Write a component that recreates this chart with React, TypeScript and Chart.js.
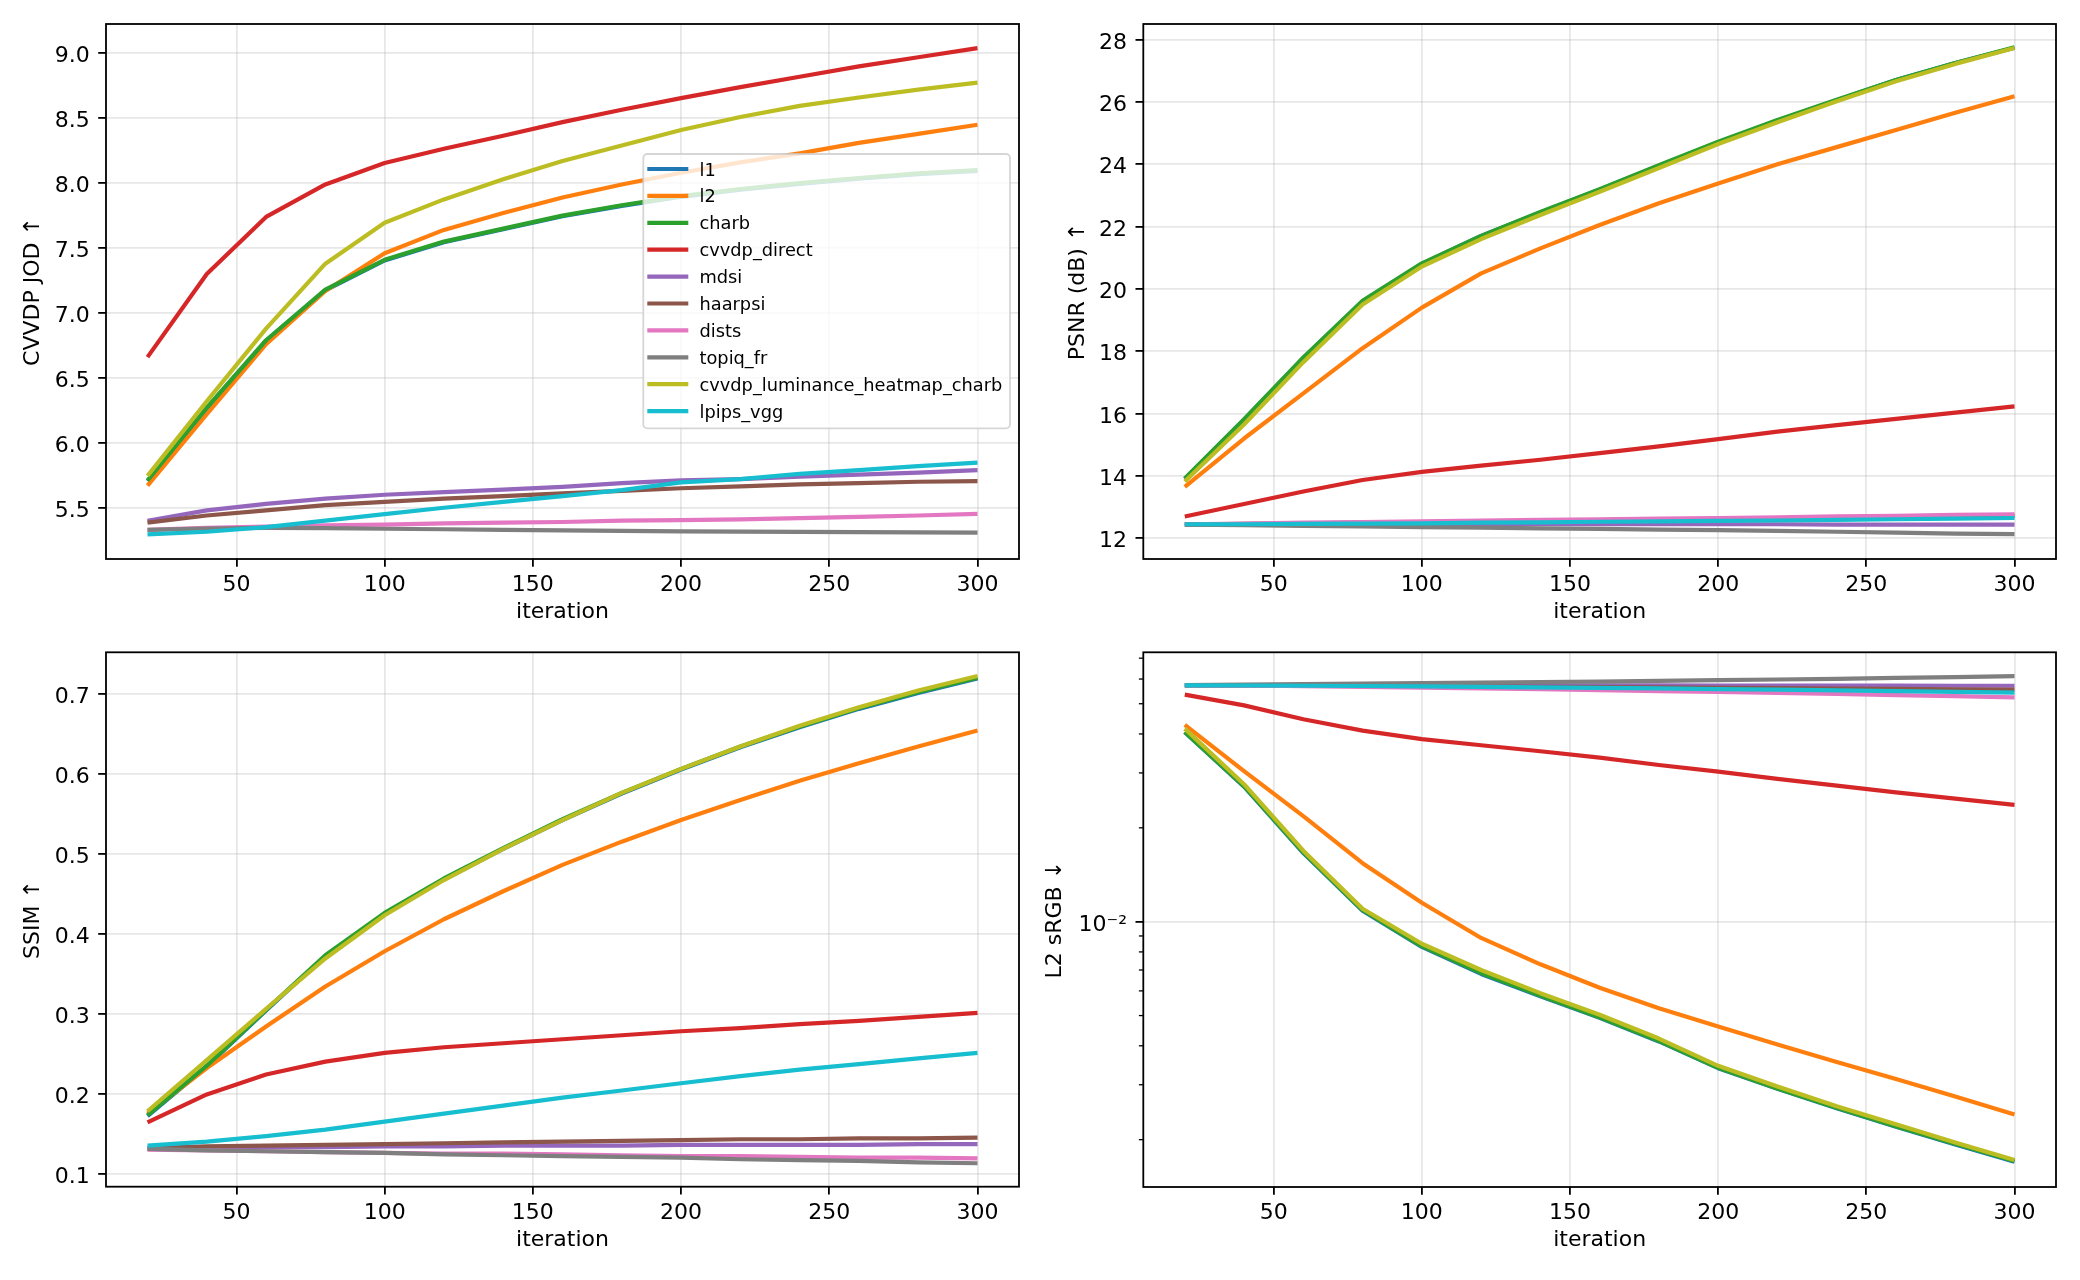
import React, { useEffect, useRef } from "react";
import { Chart, registerables } from "chart.js";

Chart.register(...registerables);
Chart.defaults.font.family = "'DejaVu Sans', sans-serif";

// ---------------- data ----------------
const ITERATIONS = [20, 40, 60, 80, 100, 120, 140, 160, 180, 200, 220, 240, 260, 280, 300];
const SERIES_NAMES = [
  "l1", "l2", "charb", "cvvdp_direct", "mdsi", "haarpsi", "dists", "topiq_fr",
  "cvvdp_luminance_heatmap_charb", "lpips_vgg",
];
const SERIES_COLORS = [
  "#1f77b4", "#ff7f0e", "#2ca02c", "#d62728", "#9467bd", "#8c564b", "#e377c2", "#7f7f7f",
  "#bcbd22", "#17becf",
];

// CVVDP JOD
const JOD_L1 = [5.705, 6.265, 6.785, 7.175, 7.405, 7.545, 7.645, 7.745, 7.825, 7.895, 7.95, 7.995, 8.035, 8.07, 8.095];
const JOD_L2 = [5.67, 6.22, 6.76, 7.17, 7.46, 7.64, 7.77, 7.89, 7.99, 8.08, 8.16, 8.23, 8.31, 8.38, 8.45];
const JOD_CHARB = [5.71, 6.27, 6.79, 7.18, 7.41, 7.55, 7.65, 7.75, 7.83, 7.9, 7.955, 8.0, 8.04, 8.075, 8.1];
const JOD_CVVDP = [6.66, 7.3, 7.74, 7.99, 8.155, 8.265, 8.365, 8.47, 8.565, 8.655, 8.74, 8.82, 8.9, 8.97, 9.04];
const JOD_MDSI = [5.4, 5.48, 5.53, 5.57, 5.6, 5.62, 5.64, 5.66, 5.69, 5.71, 5.72, 5.74, 5.755, 5.77, 5.79];
const JOD_HAARPSI = [5.385, 5.44, 5.48, 5.52, 5.545, 5.57, 5.59, 5.61, 5.63, 5.65, 5.665, 5.68, 5.69, 5.7, 5.705];
const JOD_DISTS = [5.33, 5.345, 5.355, 5.365, 5.37, 5.38, 5.385, 5.39, 5.4, 5.405, 5.41, 5.42, 5.43, 5.44, 5.452];
const JOD_TOPIQ = [5.33, 5.34, 5.345, 5.343, 5.338, 5.334, 5.33, 5.326, 5.322, 5.318, 5.316, 5.314, 5.312, 5.31, 5.308];
const JOD_LUM = [5.745, 6.32, 6.88, 7.38, 7.695, 7.875, 8.03, 8.17, 8.29, 8.41, 8.51, 8.595, 8.66, 8.72, 8.775];
const JOD_LPIPS = [5.295, 5.315, 5.35, 5.4, 5.45, 5.5, 5.545, 5.59, 5.635, 5.695, 5.72, 5.76, 5.79, 5.82, 5.848];

// PSNR (dB)
const PSNR_L1 = [13.9, 15.8, 17.78, 19.6, 20.8, 21.7, 22.45, 23.18, 23.95, 24.7, 25.4, 26.05, 26.7, 27.25, 27.74];
const PSNR_L2 = [13.65, 15.2, 16.65, 18.1, 19.4, 20.5, 21.3, 22.05, 22.75, 23.38, 24.0, 24.55, 25.1, 25.65, 26.18];
const PSNR_CHARB = [13.92, 15.82, 17.8, 19.62, 20.82, 21.7, 22.47, 23.2, 23.97, 24.72, 25.42, 26.07, 26.7, 27.25, 27.75];
const PSNR_CVVDP = [12.7, 13.1, 13.5, 13.87, 14.13, 14.33, 14.52, 14.73, 14.95, 15.18, 15.42, 15.63, 15.83, 16.03, 16.23];
const PSNR_MDSI = [12.45, 12.45, 12.45, 12.45, 12.45, 12.45, 12.45, 12.45, 12.45, 12.45, 12.45, 12.44, 12.44, 12.44, 12.44];
const PSNR_HAARPSI = [12.44, 12.46, 12.48, 12.5, 12.52, 12.54, 12.56, 12.58, 12.6, 12.62, 12.64, 12.66, 12.68, 12.7, 12.72];
const PSNR_DISTS = [12.45, 12.47, 12.5, 12.52, 12.54, 12.57, 12.59, 12.61, 12.63, 12.65, 12.67, 12.7, 12.72, 12.75, 12.77];
const PSNR_TOPIQ = [12.44, 12.42, 12.4, 12.38, 12.36, 12.34, 12.32, 12.3, 12.28, 12.26, 12.24, 12.21, 12.18, 12.15, 12.13];
const PSNR_LUM = [13.82, 15.65, 17.65, 19.5, 20.72, 21.6, 22.37, 23.12, 23.88, 24.65, 25.35, 26.02, 26.66, 27.22, 27.73];
const PSNR_LPIPS = [12.45, 12.45, 12.46, 12.47, 12.48, 12.5, 12.51, 12.53, 12.54, 12.56, 12.57, 12.59, 12.61, 12.63, 12.65];

// SSIM
const SSIM_L1 = [0.172, 0.234, 0.304, 0.372, 0.425, 0.468, 0.506, 0.542, 0.575, 0.605, 0.633, 0.658, 0.681, 0.701, 0.719];
const SSIM_L2 = [0.175, 0.232, 0.284, 0.334, 0.378, 0.418, 0.453, 0.486, 0.515, 0.542, 0.567, 0.591, 0.613, 0.634, 0.654];
const SSIM_CHARB = [0.173, 0.235, 0.305, 0.373, 0.426, 0.469, 0.507, 0.543, 0.576, 0.606, 0.634, 0.659, 0.682, 0.702, 0.72];
const SSIM_CVVDP = [0.164, 0.199, 0.224, 0.24, 0.251, 0.258, 0.263, 0.268, 0.273, 0.278, 0.282, 0.287, 0.291, 0.296, 0.301];
const SSIM_MDSI = [0.131, 0.132, 0.133, 0.133, 0.134, 0.134, 0.135, 0.135, 0.135, 0.136, 0.136, 0.136, 0.136, 0.137, 0.137];
const SSIM_HAARPSI = [0.132, 0.134, 0.135, 0.136, 0.137, 0.138, 0.139, 0.14, 0.141, 0.142, 0.143, 0.143, 0.144, 0.144, 0.145];
const SSIM_DISTS = [0.13, 0.129, 0.128, 0.127, 0.126, 0.125, 0.125, 0.124, 0.123, 0.122, 0.122, 0.121, 0.12, 0.12, 0.119];
const SSIM_TOPIQ = [0.131, 0.129, 0.128, 0.127, 0.126, 0.124, 0.123, 0.122, 0.121, 0.12, 0.118, 0.117, 0.116, 0.114, 0.113];
const SSIM_LUM = [0.178, 0.242, 0.306, 0.369, 0.423, 0.467, 0.506, 0.542, 0.576, 0.606, 0.634, 0.66, 0.683, 0.704, 0.722];
const SSIM_LPIPS = [0.135, 0.14, 0.147, 0.155, 0.165, 0.175, 0.185, 0.195, 0.204, 0.213, 0.222, 0.23, 0.237, 0.244, 0.251];

// L2 sRGB
const L2_L1 = [0.0405, 0.0271, 0.0166, 0.01085, 0.0083, 0.0068, 0.00577, 0.00492, 0.00413, 0.00339, 0.00291, 0.00252, 0.0022, 0.00193, 0.0017];
const L2_L2 = [0.0428, 0.0304, 0.0218, 0.0154, 0.0115, 0.00887, 0.0073, 0.00614, 0.00528, 0.00461, 0.00404, 0.00355, 0.00313, 0.00275, 0.00241];
const L2_CHARB = [0.0406, 0.0272, 0.0167, 0.0109, 0.00835, 0.00685, 0.0058, 0.00494, 0.00415, 0.0034, 0.00292, 0.00253, 0.00221, 0.00194, 0.00171];
const L2_CVVDP = [0.0535, 0.0494, 0.0446, 0.041, 0.0385, 0.0368, 0.0352, 0.0336, 0.0318, 0.0303, 0.0287, 0.0273, 0.026, 0.0248, 0.0237];
const L2_MDSI = [0.0573, 0.0573, 0.0573, 0.0573, 0.0573, 0.0573, 0.0573, 0.0573, 0.0573, 0.0572, 0.0572, 0.0572, 0.0572, 0.0571, 0.0571];
const L2_HAARPSI = [0.0573, 0.0572, 0.0571, 0.057, 0.0569, 0.0568, 0.0566, 0.0565, 0.0564, 0.0562, 0.0561, 0.0559, 0.0558, 0.0556, 0.0555];
const L2_DISTS = [0.0574, 0.0572, 0.0569, 0.0566, 0.0563, 0.056, 0.0557, 0.0553, 0.0549, 0.0546, 0.0542, 0.0538, 0.0533, 0.0529, 0.0524];
const L2_TOPIQ = [0.0574, 0.0576, 0.0578, 0.058, 0.0582, 0.0584, 0.0587, 0.0589, 0.0592, 0.0595, 0.0598, 0.0601, 0.0605, 0.0609, 0.0613];
const L2_LUM = [0.0416, 0.0276, 0.0169, 0.011, 0.0085, 0.007, 0.0059, 0.00503, 0.00422, 0.00345, 0.00296, 0.00256, 0.00224, 0.00196, 0.00172];
const L2_LPIPS = [0.0573, 0.0572, 0.0571, 0.057, 0.0568, 0.0566, 0.0564, 0.0562, 0.056, 0.0557, 0.0555, 0.0552, 0.0549, 0.0546, 0.0543];

// ticks
const X_TICKS = [50, 100, 150, 200, 250, 300];
const JOD_TICKS = [5.5, 6.0, 6.5, 7.0, 7.5, 8.0, 8.5, 9.0];
const PSNR_TICKS = [12, 14, 16, 18, 20, 22, 24, 26, 28];
const SSIM_TICKS = [0.1, 0.2, 0.3, 0.4, 0.5, 0.6, 0.7];
const L2_MAJOR_TICKS = [0.01];
const L2_MINOR_TICKS = [0.002, 0.003, 0.004, 0.005, 0.006, 0.007, 0.008, 0.009, 0.02, 0.03, 0.04, 0.05, 0.06, 0.07];

// ---------------- layout / style ----------------
const FIG_W = 2080;
const FIG_H = 1280;
const PANEL_W = 1040;
const PANEL_H = 640;
const FONT = "'DejaVu Sans', sans-serif";
const TICK_SIZE = 22;
const LABEL_SIZE = 22;
const LEGEND_SIZE = 17.8;
const GRID_COLOR = "rgba(176,176,176,0.3)";
const LINE_W = 4.2;

type PanelCfg = {
  key: string;
  left: number;
  top: number;
  area: { l: number; t: number; r: number; b: number };
  yTitle: string;
  yTitlePad: number;
  xTitlePad: number;
  values: number[][];
  yType: "linear" | "logarithmic";
  yMin: number;
  yMax: number;
  yTicks: number[];
  yMinor?: number[];
  fmt: (v: number) => string;
  legend?: boolean;
};

const PANELS: PanelCfg[] = [
  {
    key: "jod", left: 0, top: 0,
    area: { l: 106, t: 24, r: 1019, b: 559 },
    yTitle: "CVVDP JOD \u2191", yTitlePad: 20, xTitlePad: 14.3,
    values: [JOD_L1, JOD_L2, JOD_CHARB, JOD_CVVDP, JOD_MDSI, JOD_HAARPSI, JOD_DISTS, JOD_TOPIQ, JOD_LUM, JOD_LPIPS],
    yType: "linear", yMin: 5.105, yMax: 9.226, yTicks: JOD_TICKS,
    fmt: (v) => v.toFixed(1), legend: true,
  },
  {
    key: "psnr", left: 1040, top: 0,
    area: { l: 1143.3, t: 24, r: 2056, b: 559 },
    yTitle: "PSNR (dB) \u2191", yTitlePad: 25.5, xTitlePad: 14.3,
    values: [PSNR_L1, PSNR_L2, PSNR_CHARB, PSNR_CVVDP, PSNR_MDSI, PSNR_HAARPSI, PSNR_DISTS, PSNR_TOPIQ, PSNR_LUM, PSNR_LPIPS],
    yType: "linear", yMin: 11.335, yMax: 28.5, yTicks: PSNR_TICKS,
    fmt: (v) => String(v),
  },
  {
    key: "ssim", left: 0, top: 640,
    area: { l: 106, t: 652.3, r: 1019, b: 1186.7 },
    yTitle: "SSIM \u2191", yTitlePad: 20, xTitlePad: 26.6,
    values: [SSIM_L1, SSIM_L2, SSIM_CHARB, SSIM_CVVDP, SSIM_MDSI, SSIM_HAARPSI, SSIM_DISTS, SSIM_TOPIQ, SSIM_LUM, SSIM_LPIPS],
    yType: "linear", yMin: 0.0837, yMax: 0.7517, yTicks: SSIM_TICKS,
    fmt: (v) => v.toFixed(1),
  },
  {
    key: "l2", left: 1040, top: 640,
    area: { l: 1143.3, t: 652.3, r: 2056, b: 1187 },
    yTitle: "L2 sRGB \u2193", yTitlePad: 1.8, xTitlePad: 26.6,
    values: [L2_L1, L2_L2, L2_CHARB, L2_CVVDP, L2_MDSI, L2_HAARPSI, L2_DISTS, L2_TOPIQ, L2_LUM, L2_LPIPS],
    yType: "logarithmic", yMin: 0.00141, yMax: 0.0731, yTicks: L2_MAJOR_TICKS, yMinor: L2_MINOR_TICKS,
    fmt: (v) => (Math.abs(v - 0.01) < 1e-9 ? "10\u207B\u00B2" : ""),
  },
];

const framePlugin = {
  id: "frame",
  afterDatasetsDraw(chart: any) {
    const { ctx, chartArea } = chart;
    const { left, top, right, bottom } = chartArea;
    ctx.save();
    ctx.strokeStyle = "#000";
    ctx.lineWidth = 1.8;
    ctx.strokeRect(left, top, right - left, bottom - top);
    ctx.restore();
  },
};

function makeMinorPlugin(minor: number[]) {
  return {
    id: "minorTicks",
    afterDatasetsDraw(chart: any) {
      const { ctx, chartArea } = chart;
      const ys = chart.scales.y;
      ctx.save();
      ctx.strokeStyle = "#000";
      ctx.lineWidth = 1.3;
      for (const v of minor) {
        const y = ys.getPixelForValue(v);
        if (y < chartArea.top - 0.5 || y > chartArea.bottom + 0.5) continue;
        ctx.beginPath();
        ctx.moveTo(chartArea.left - 4.4, y);
        ctx.lineTo(chartArea.left, y);
        ctx.stroke();
      }
      ctx.restore();
    },
  };
}

function makeLegendPlugin(panel: PanelCfg) {
  return {
    id: "mplLegend",
    afterDraw(chart: any) {
      const ctx = chart.ctx;
      const bx = 643.3 - panel.left;
      const by = 154 - panel.top;
      const bw = 1010 - 643.3;
      const bh = 428.3 - 154;
      const r = 4;
      ctx.save();
      ctx.beginPath();
      ctx.moveTo(bx + r, by);
      ctx.lineTo(bx + bw - r, by);
      ctx.arcTo(bx + bw, by, bx + bw, by + r, r);
      ctx.lineTo(bx + bw, by + bh - r);
      ctx.arcTo(bx + bw, by + bh, bx + bw - r, by + bh, r);
      ctx.lineTo(bx + r, by + bh);
      ctx.arcTo(bx, by + bh, bx, by + bh - r, r);
      ctx.lineTo(bx, by + r);
      ctx.arcTo(bx, by, bx + r, by, r);
      ctx.closePath();
      ctx.fillStyle = "rgba(255,255,255,0.8)";
      ctx.fill();
      ctx.strokeStyle = "rgba(204,204,204,0.8)";
      ctx.lineWidth = 1.8;
      ctx.stroke();
      const datasets = chart.data.datasets;
      ctx.font = `${LEGEND_SIZE}px ${FONT}`;
      ctx.textAlign = "left";
      ctx.textBaseline = "alphabetic";
      for (let i = 0; i < datasets.length; i++) {
        const cy = 169 + i * 26.9 - panel.top;
        ctx.strokeStyle = datasets[i].borderColor;
        ctx.lineWidth = LINE_W;
        ctx.beginPath();
        ctx.moveTo(647.3 - panel.left, cy);
        ctx.lineTo(688.3 - panel.left, cy);
        ctx.stroke();
        ctx.fillStyle = "#000";
        ctx.fillText(datasets[i].label, 699.5 - panel.left, cy + 6.5);
      }
      ctx.restore();
    },
  };
}

function PanelChart({ panel }: { panel: PanelCfg }) {
  const ref = useRef<HTMLCanvasElement>(null);
  useEffect(() => {
    const canvas = ref.current;
    if (!canvas) return;
    const n = SERIES_NAMES.length;
    const datasets = SERIES_NAMES.map((name, i) => ({
      label: name,
      data: ITERATIONS.map((x, j) => ({ x, y: panel.values[i][j] })),
      borderColor: SERIES_COLORS[i],
      backgroundColor: SERIES_COLORS[i],
      borderWidth: LINE_W,
      pointRadius: 0,
      tension: 0,
      fill: false,
      borderJoinStyle: "round" as const,
      borderCapStyle: "butt" as const,
      order: n - i,
    }));
    const a = panel.area;
    const yWidth = a.l - panel.left;
    const xHeight = panel.top + PANEL_H - a.b;
    const isLog = panel.yType === "logarithmic";
    const plugins: any[] = [framePlugin];
    if (panel.yMinor) plugins.push(makeMinorPlugin(panel.yMinor));
    if (panel.legend) plugins.push(makeLegendPlugin(panel));
    const isMajor = (c: any) =>
      !isLog || (c.tick && panel.yTicks.some((t) => Math.abs(t - c.tick.value) < 1e-12));

    const chart = new Chart(canvas, {
      type: "line",
      data: { datasets },
      plugins,
      options: {
        animation: false,
        responsive: false,
        maintainAspectRatio: false,
        devicePixelRatio: 1,
        events: [],
        layout: {
          padding: {
            left: 0,
            top: a.t - panel.top,
            right: panel.left + PANEL_W - a.r,
            bottom: 0,
          },
        },
        plugins: {
          legend: { display: false },
          tooltip: { enabled: false },
          title: { display: false },
        },
        scales: {
          x: {
            type: "linear",
            min: 6,
            max: 314,
            afterBuildTicks: (s: any) => {
              s.ticks = X_TICKS.map((v) => ({ value: v }));
            },
            afterFit: (s: any) => {
              s.height = xHeight;
              s.paddingLeft = 0;
              s.paddingRight = 0;
            },
            border: { display: false },
            grid: {
              color: GRID_COLOR,
              lineWidth: 1.8,
              drawTicks: true,
              tickLength: 7.8,
              tickWidth: 1.8,
              tickColor: "#000",
            },
            ticks: {
              color: "#000",
              font: { family: FONT, size: TICK_SIZE },
              padding: 5.5,
              maxRotation: 0,
              autoSkip: false,
              callback: (v: any) => String(v),
            },
            title: {
              display: true,
              text: "iteration",
              color: "#000",
              font: { family: FONT, size: LABEL_SIZE },
              padding: { top: 0, bottom: panel.xTitlePad },
            },
          },
          y: {
            type: panel.yType,
            min: panel.yMin,
            max: panel.yMax,
            afterBuildTicks: (s: any) => {
              const vals = isLog ? [...panel.yTicks, ...(panel.yMinor || [])].sort((p, q) => p - q) : panel.yTicks;
              s.ticks = vals.map((v) => ({ value: v }));
            },
            afterFit: (s: any) => {
              s.width = yWidth;
              s.paddingTop = 0;
              s.paddingBottom = 0;
            },
            border: { display: false },
            grid: {
              color: (c: any) => (isMajor(c) ? GRID_COLOR : "rgba(0,0,0,0)"),
              lineWidth: 1.8,
              drawTicks: true,
              tickLength: 7.8,
              tickWidth: 1.8,
              tickColor: (c: any) => (isMajor(c) ? "#000" : "rgba(0,0,0,0)"),
            },
            ticks: {
              color: "#000",
              font: { family: FONT, size: TICK_SIZE },
              padding: 8.5,
              labelOffset: 3.2,
              autoSkip: false,
              callback: (v: any) => panel.fmt(Number(v)),
            },
            title: {
              display: true,
              text: panel.yTitle,
              color: "#000",
              font: { family: FONT, size: LABEL_SIZE },
              padding: { top: panel.yTitlePad, bottom: 0 },
            },
          },
        },
      } as any,
    });
    return () => chart.destroy();
  }, [panel]);

  return (
    <div style={{ position: "absolute", left: panel.left, top: panel.top, width: PANEL_W, height: PANEL_H }}>
      <canvas ref={ref} width={PANEL_W} height={PANEL_H} style={{ display: "block", width: PANEL_W, height: PANEL_H }} />
    </div>
  );
}

export default function App() {
  return (
    <div
      style={{
        position: "fixed",
        left: 0,
        top: 0,
        width: FIG_W,
        height: FIG_H,
        background: "#fff",
        overflow: "hidden",
      }}
    >
      {PANELS.map((p) => (
        <PanelChart key={p.key} panel={p} />
      ))}
    </div>
  );
}
